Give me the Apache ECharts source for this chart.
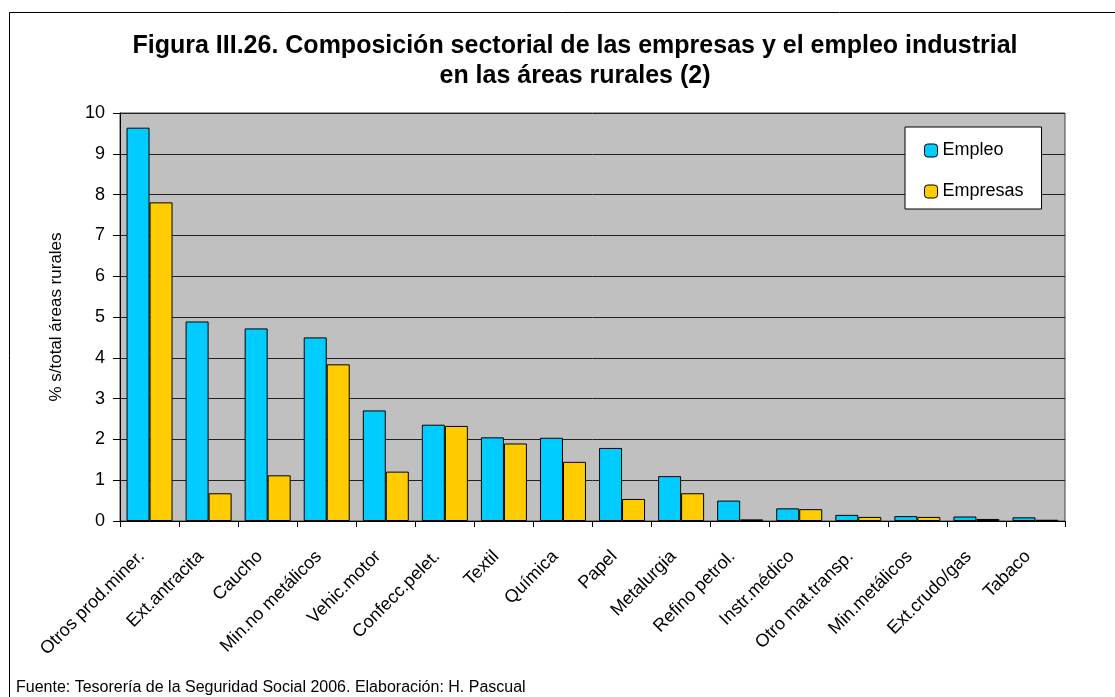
<!DOCTYPE html>
<html>
<head>
<meta charset="utf-8">
<script src="https://cdn.jsdelivr.net/npm/echarts@6/dist/echarts.min.js"></script>
<style>
html,body{margin:0;padding:0;background:#fff;}
#chart{width:1115px;height:697px;}
</style>
</head>
<body>
<div id="chart"></div>
<script>
const categories = ['Otros prod.miner.', 'Ext.antracita', 'Caucho', 'Min.no metálicos', 'Vehic.motor', 'Confecc.pelet.', 'Textil', 'Química', 'Papel', 'Metalurgia', 'Refino petrol.', 'Instr.médico', 'Otro mat.transp.', 'Min.metálicos', 'Ext.crudo/gas', 'Tabaco'];
const empleo = [9.64, 4.89, 4.72, 4.50, 2.71, 2.36, 2.05, 2.04, 1.79, 1.10, 0.50, 0.31, 0.15, 0.12, 0.11, 0.09];
const empresas = [7.81, 0.68, 1.12, 3.84, 1.21, 2.33, 1.90, 1.45, 0.54, 0.68, 0.04, 0.29, 0.10, 0.10, 0.05, 0.03];
const yTicks = [0, 1, 2, 3, 4, 5, 6, 7, 8, 9, 10];

const FONT = '"Liberation Sans", Arial, sans-serif';
const chart = echarts.init(document.getElementById('chart'));
chart.setOption({
  animation: false,
  backgroundColor: '#ffffff',
  textStyle: { fontFamily: FONT },
  title: {
    text: 'Figura III.26. Composición sectorial de las empresas y el empleo industrial\nen las áreas rurales (2)',
    left: 570,
    top: 26,
    textAlign: 'center',
    textStyle: { fontFamily: FONT, fontSize: 25, fontWeight: 'bold', color: '#000', lineHeight: 30 }
  },
  legend: {
    orient: 'vertical',
    left: 905,
    top: 127,
    padding: [13, 18, 7, 19],
    itemGap: 20,
    itemWidth: 13,
    itemHeight: 13,
    itemStyle: { borderColor: '#000', borderWidth: 1 },
    backgroundColor: '#ffffff',
    borderColor: '#000',
    borderWidth: 1,
    textStyle: { fontFamily: FONT, fontSize: 18, color: '#000', lineHeight: 21, padding: [0, 0, 0, 0] },
    data: ['Empleo', 'Empresas']
  },
  grid: {
    left: 120, right: 50, top: 113, bottom: 176,
    show: true,
    backgroundColor: '#C0C0C0',
    borderColor: '#404040',
    borderWidth: 1
  },
  xAxis: {
    type: 'category',
    data: categories,
    boundaryGap: true,
    axisLine: { show: true, lineStyle: { color: '#000', width: 1 } },
    axisTick: { show: true, length: 6, lineStyle: { color: '#000' } },
    axisLabel: { rotate: 45, fontFamily: FONT, fontSize: 18, color: '#000', margin: 25, padding: [0, 11, 0, 0], interval: 0 }
  },
  yAxis: {
    type: 'value',
    min: 0, max: 10, interval: 1,
    name: '% s/total áreas rurales',
    nameLocation: 'middle',
    nameGap: 55,
    nameTextStyle: { fontFamily: FONT, fontSize: 17, color: '#000' },
    axisLine: { show: true, lineStyle: { color: '#000', width: 1 } },
    axisTick: { show: true, length: 7, lineStyle: { color: '#000' } },
    axisLabel: {
      fontFamily: FONT, fontSize: 18, color: '#000', margin: 15,
      formatter: function (v) { return yTicks.indexOf(v) >= 0 ? String(v) : ''; }
    },
    splitLine: { show: true, lineStyle: { color: '#222', width: 1 } }
  },
  series: [
    {
      name: 'Empleo', type: 'bar', data: empleo,
      barWidth: 23, barGap: '0%',
      itemStyle: { color: '#00CCFF', borderColor: '#000', borderWidth: 1 }
    },
    {
      name: 'Empresas', type: 'bar', data: empresas,
      barWidth: 23, barGap: '0%',
      itemStyle: { color: '#FFCC00', borderColor: '#000', borderWidth: 1 }
    }
  ],
  graphic: [
    {
      type: 'rect',
      shape: { x: 9.5, y: 12.5, width: 1200, height: 800 },
      style: { fill: 'none', stroke: '#000', lineWidth: 1 },
      silent: true
    },
    {
      type: 'text',
      left: 16,
      top: 680,
      style: { text: 'Fuente: Tesorería de la Seguridad Social 2006. Elaboración: H. Pascual', font: '16px ' + FONT, fill: '#000' }
    }
  ]
});
</script>
</body>
</html>
